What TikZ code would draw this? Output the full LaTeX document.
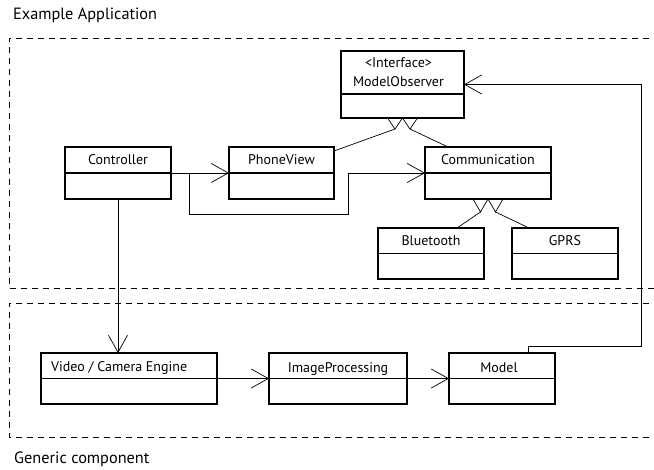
\documentclass[tikz,border=0pt]{standalone}
\usepackage{fontspec}
\setmainfont{PT Sans}
\usetikzlibrary{arrows.meta,calc}
\begin{document}
\begin{tikzpicture}[x=1pt,y=-1pt,
  clsbox/.style={draw=black, line width=1.2pt, inner sep=0pt, outer sep=0pt},
  divline/.style={line width=1.2pt},
  lbl/.style={inner sep=0pt, anchor=base, font=\fontsize{14}{16}\selectfont},
  conn/.style={line width=0.7pt},
  arr/.style={conn, -{Straight Barb[length=17pt,width=19pt]}},
  frame/.style={line width=0.9pt, dash pattern=on 6pt off 5pt},
  title/.style={inner sep=0pt, anchor=base west, font=\fontsize{16.3}{19}\selectfont}]
\useasboundingbox (0,0) rectangle (654,470);
% frames
\draw[frame] (660,38) -- (9,38) -- (9,288) -- (660,288);
\draw[frame] (660,303) -- (9,303) -- (9,437) -- (660,437);
\node[title] (t1) at (13,20) {Example Application};
\node[title] (t2) at (14,464) {Generic component};
% classes
\node[clsbox, minimum width=106pt, minimum height=52pt] (ctrl) at (118,173) {};
\node[clsbox, minimum width=105pt, minimum height=52pt] (pv) at (281.5,173) {};
\node[clsbox, minimum width=126pt, minimum height=52pt] (comm) at (488,173) {};
\node[clsbox, minimum width=106pt, minimum height=51pt] (bt) at (431,253.5) {};
\node[clsbox, minimum width=106pt, minimum height=51pt] (gprs) at (565,253.5) {};
\node[clsbox, minimum width=123pt, minimum height=67pt] (mo) at (402.5,84.5) {};
\node[clsbox, minimum width=176pt, minimum height=51pt] (vid) at (129,378.5) {};
\node[clsbox, minimum width=138pt, minimum height=51pt] (ip) at (338,378.5) {};
\node[clsbox, minimum width=106pt, minimum height=51pt] (model) at (502,378.5) {};
% dividers
\foreach \n in {ctrl,pv,comm,bt,gprs,vid,ip,model}{\draw[divline] (\n.west) -- (\n.east);}
\draw[divline] (mo.west |- 0,94) -- (mo.east |- 0,94);
% labels
\node[lbl] (lctrl) at ($(ctrl.north)+(0,18)$) {Controller};
\node[lbl] (lpv) at ($(pv.north)+(0,18)$) {PhoneView};
\node[lbl] (lcomm) at ($(comm.north)+(0,18)$) {Communication};
\node[lbl] (lbt) at ($(bt.north)+(0,17.5)$) {Bluetooth};
\node[lbl] (lgprs) at ($(gprs.north)+(0,17.5)$) {GPRS};
\node[lbl] (lmo1) at ($(mo.north)+(-4,17)$) {<Interface>};
\node[lbl] (lmo2) at ($(mo.north)+(-4,36)$) {ModelObserver};
\node[lbl, anchor=base west] (lvid) at ($(vid.north west)+(10,19)$) {Video / Camera Engine};
\node[lbl] (lip) at ($(ip.north)+(0,19.5)$) {ImageProcessing};
\node[lbl] (lmodel) at ($(model.north)+(-3,19.5)$) {Model};
% generalization triangles
\coordinate (moA) at ($(mo.south)+(-7.5,11)$);
\coordinate (moB) at ($(mo.south)+(7.5,11)$);
\draw[conn] ($(mo.south)+(-15,0)$) -- (moA) -- (mo.south) -- (moB) -- ($(mo.south)+(15,0)$);
\coordinate (coA) at ($(comm.south)+(-7.5,13)$);
\coordinate (coB) at ($(comm.south)+(7.5,13)$);
\draw[conn] ($(comm.south)+(-15,0)$) -- (coA) -- (comm.south) -- (coB) -- ($(comm.south)+(15,0)$);
\draw[conn] ($(pv.north east)+(0,4)$) -- (moA);
\draw[conn] ($(comm.north)+(-40,0)$) -- (moB);
\draw[conn] ($(bt.north)+(26,0)$) -- (coA);
\draw[conn] ($(gprs.north)+(-36,0)$) -- (coB);
% associations
\draw[arr] (ctrl.east) -- (pv.west);
\coordinate (br) at ($(ctrl.east)+(18,0)$);
\draw[arr] (br) -- (br |- 0,214) -- (348,214) -- (348,173) -- (comm.west);
\draw[arr] (ctrl.south) -- (ctrl.south |- vid.north);
\draw[arr] (vid.east) -- (ip.west);
\draw[arr] (ip.east) -- (model.west);
\draw[arr] ($(model.north)+(26,0)$) |- (641,346) |- (mo.east);
\end{tikzpicture}
\end{document}
